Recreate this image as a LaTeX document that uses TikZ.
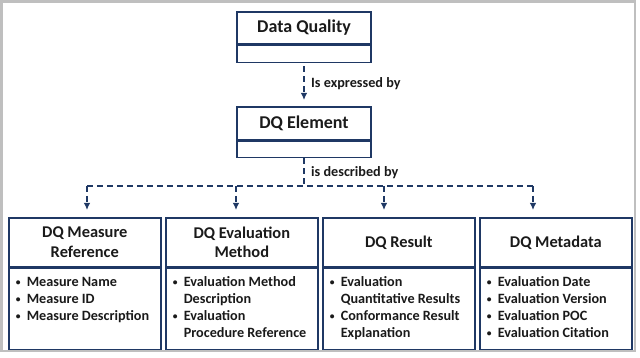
\documentclass[tikz,border=0pt]{standalone}
\usepackage{fontspec}
\setmainfont{Carlito}
\usetikzlibrary{arrows.meta}
\definecolor{navy}{HTML}{1F3864}
\definecolor{txt}{HTML}{1A1A1A}
\definecolor{framegray}{HTML}{BFBFBF}
\newcommand\smallbul{\raisebox{1.3pt}{\fontsize{9.5}{9.5}\selectfont •}}
\newcommand\bitem[1]{\makebox[12.5pt][l]{\hspace*{1.5pt}\smallbul}#1}
\newcommand\bcont[1]{\hspace*{12.5pt}#1}
\newcommand\bodytext[1]{\parbox[c][68pt][t]{141pt}{\raggedright\fontsize{14.2}{17}\selectfont\bfseries\strut #1}}
\begin{document}
\begin{tikzpicture}[x=1pt,y=-1pt,
  boxline/.style={draw=navy, line width=1.6pt, fill=white, text=txt, font=\bfseries},
  tophdr/.style={boxline, minimum width=134pt, minimum height=32pt, inner sep=0pt, font=\fontsize{18}{21}\selectfont\bfseries},
  topbody/.style={boxline, minimum width=134pt, minimum height=17pt, inner sep=0pt},
  subhdr/.style={boxline, minimum width=152pt, minimum height=49pt, inner sep=0pt, align=center, font=\fontsize{16.4}{19.5}\selectfont\bfseries},
  subbody/.style={boxline, minimum width=152pt, minimum height=81pt, inner xsep=5.5pt, inner ysep=6.5pt},
  conn/.style={draw=navy, line width=1.6pt, dash pattern=on 6pt off 4pt},
  arr/.style={conn, -{Latex[length=7pt,width=6.5pt]}},
  lbl/.style={text=txt, font=\fontsize{14.2}{17}\selectfont\bfseries, inner sep=0pt}
]
\useasboundingbox (0,0) rectangle (640,358);
\fill[white] (0,0) rectangle (640,358);
\draw[framegray, line width=2.5pt] (1.5,1.5) rectangle (635,351);

% top boxes
\node[tophdr, anchor=north] (dq) at (304,11) {Data Quality};
\node[topbody, anchor=north] (dqb) at (dq.south) {};
\node[tophdr, minimum height=33pt, anchor=north] (de) at (304,106) {DQ Element};
\node[topbody, minimum height=16pt, anchor=north] (deb) at (de.south) {};

% bottom boxes
\node[subhdr, anchor=north west] (h1) at (8,217) {DQ Measure\\Reference};
\node[subbody, anchor=north] (b1) at (h1.south) {\bodytext{\bitem{Measure Name}\\\bitem{Measure ID}\\\bitem{Measure Description}}};
\node[subhdr, anchor=north west] (h2) at (165,217) {DQ Evaluation\\Method};
\node[subbody, anchor=north] (b2) at (h2.south) {\bodytext{\bitem{Evaluation Method}\\\bcont{Description}\\\bitem{Evaluation}\\\bcont{Procedure Reference}}};
\node[subhdr, anchor=north west] (h3) at (322,217) {DQ Result};
\node[subbody, anchor=north] (b3) at (h3.south) {\bodytext{\bitem{Evaluation}\\\bcont{Quantitative Results}\\\bitem{Conformance Result}\\\bcont{Explanation}}};
\node[subhdr, anchor=north west] (h4) at (479,217) {DQ Metadata};
\node[subbody, anchor=north] (b4) at (h4.south) {\bodytext{\bitem{Evaluation Date}\\\bitem{Evaluation Version}\\\bitem{Evaluation POC}\\\bitem{Evaluation Citation}}};

% connectors
\draw[arr, shorten <=3pt, shorten >=6pt] (dqb.south) -- (de.north);
\node[lbl, anchor=west] (l1) at (311,84) {Is expressed by};

\coordinate (j) at (deb.south |- 0,186);
\coordinate (c1) at (87,186);
\coordinate (c2) at (236,186);
\coordinate (c3) at (384,186);
\coordinate (c4) at (533,186);
\draw[conn] (deb.south) -- (j);
\draw[conn] (c1) -- (c4);
\node[lbl, anchor=west] (l2) at (311,173) {is described by};
\draw[arr, shorten >=7pt] (c1) -- (c1 |- h1.north);
\draw[arr, shorten >=7pt] (c2) -- (c2 |- h2.north);
\draw[arr, shorten >=7pt] (c3) -- (c3 |- h3.north);
\draw[arr, shorten >=7pt] (c4) -- (c4 |- h4.north);
\end{tikzpicture}
\end{document}
